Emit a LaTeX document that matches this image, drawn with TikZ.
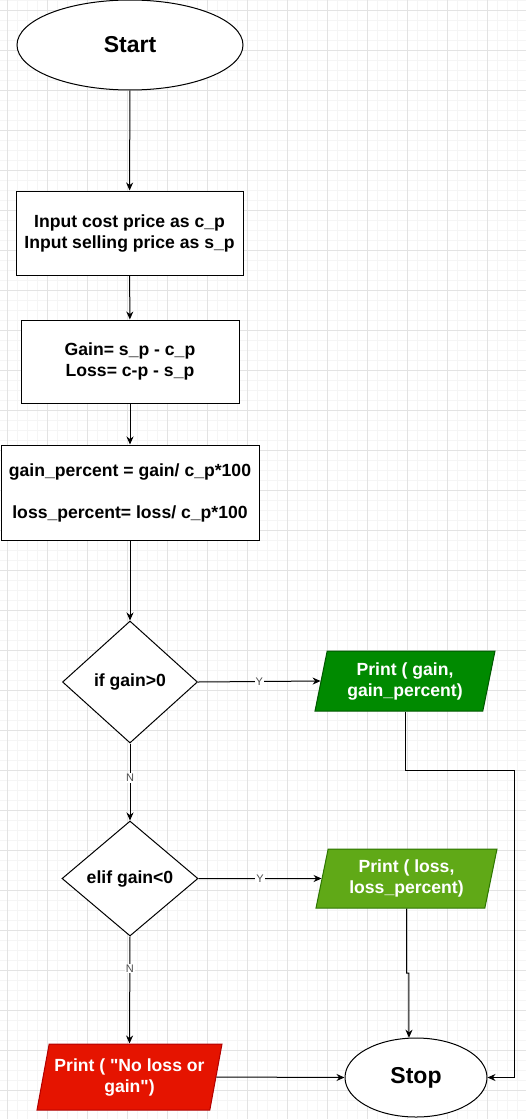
\documentclass[tikz,border=0pt]{standalone}
\usepackage{fontspec}
\setmainfont{Liberation Sans}
\usetikzlibrary{arrows.meta,calc,positioning,shapes.geometric}
\definecolor{gainfill}{HTML}{008A00}
\definecolor{gainline}{HTML}{005700}
\definecolor{lossfill}{HTML}{60A917}
\definecolor{lossline}{HTML}{2D7600}
\definecolor{nonefill}{HTML}{E51400}
\definecolor{noneline}{HTML}{B20000}
\tikzset{
  txt/.style={font=\fontsize{17.6}{21}\selectfont\bfseries, align=center},
  terminal/.style={ellipse, draw, fill=white, line width=1pt, font=\fontsize{23}{27}\selectfont\bfseries},
  process/.style={rectangle, draw, fill=white, line width=1pt, txt},
  decision/.style={diamond, draw, fill=white, line width=1pt, inner sep=0pt, txt},
  io/.style={trapezium, trapezium left angle=72, trapezium right angle=108,
    trapezium stretches body, draw, line width=1pt, inner sep=0pt, txt, text=white},
  arr/.style={-{Stealth[length=8pt,width=7pt]}, line width=1pt},
  lbl/.style={fill=white, inner sep=1pt, text=black!70, font=\fontsize{11}{13}\selectfont},
  minorgrid/.style={black!4, line width=0.8pt},
  majorgrid/.style={black!11, line width=1pt}
}

\begin{document}
\begin{tikzpicture}[x=1pt,y=-1pt]
    \useasboundingbox (0,0) rectangle (526,1119);
    \fill[white] (0,0) rectangle (526,1119);
    % grid
    \foreach \gx in {7,17,...,527} \draw[minorgrid] (\gx,0) -- (\gx,1119);
    \foreach \gy in {0,10,...,1119} \draw[minorgrid] (0,\gy) -- (526,\gy);
    \foreach \gx in {7,47,...,527} \draw[majorgrid] (\gx,0) -- (\gx,1119);
    \foreach \gy in {10,50,...,1119} \draw[majorgrid] (0,\gy) -- (526,\gy);
    % nodes
    \node[terminal, minimum width=226pt, minimum height=90pt] (start) at (130,45) {Start};
    \node[process, minimum width=227pt, minimum height=84pt] (input) at (129.5,233)
      {Input cost price as c\_p\\Input selling price as s\_p};
    \node[process, minimum width=218pt, minimum height=83pt] (calc) at (130,361.5)
      {Gain= s\_p - c\_p\\Loss= c-p - s\_p};
    \node[process, minimum width=258pt, minimum height=95pt, inner sep=0pt] (pct) at (130,492.5)
      {gain\_percent = gain/ c\_p*100\\[21pt]loss\_percent= loss/ c\_p*100};
    \node[decision, minimum width=135pt, minimum height=122pt] (ifgain) at (130,682) {if gain>0};
    \node[io, fill=gainfill, draw=gainline, minimum width=180pt, minimum height=60pt] (prgain) at (405,681)
      {Print ( gain,\\gain\_percent)};
    \node[decision, minimum width=136pt, minimum height=115pt] (ifloss) at (130,878.5) {elif gain<0};
    \node[io, fill=lossfill, draw=lossline, minimum width=181pt, minimum height=59pt] (prloss) at (406.5,878.5)
      {Print ( loss,\\loss\_percent)};
    \node[io, fill=nonefill, draw=noneline, minimum width=185pt, minimum height=66pt] (prnone) at (129.5,1077)
      {Print ( \textquotedbl No loss or\\gain\textquotedbl)};
    \node[terminal, minimum width=142pt, minimum height=79pt] (stop) at (416,1077.5) {Stop};
    % connectors
    \draw[arr] (start) -- (input);
    \draw[arr] (input) -- (calc);
    \draw[arr] (calc) -- (pct);
    \draw[arr] (pct) -- (ifgain);
    \draw[arr] (ifgain.east) -- node[lbl] {Y} (prgain.west);
    \draw[arr] (ifgain.south) -- node[lbl, pos=0.45] {N} (ifloss.north);
    \draw[arr] (ifloss.east) -- node[lbl] {Y} (prloss.west);
    \draw[arr] (ifloss.south) -- node[lbl, pos=0.3] {N} (prnone.north);
    \draw[arr] (prnone.east) -- (stop.west);
    \coordinate (gbend) at (514,770);
    \draw[arr] (prgain.south) |- (gbend) |- (stop.east);
    \coordinate (lbend) at (406.5,973);
    \draw[arr] (prloss.south) -- (lbend) -- (stop.100 |- lbend) -- (stop.100);
\end{tikzpicture}
\end{document}
